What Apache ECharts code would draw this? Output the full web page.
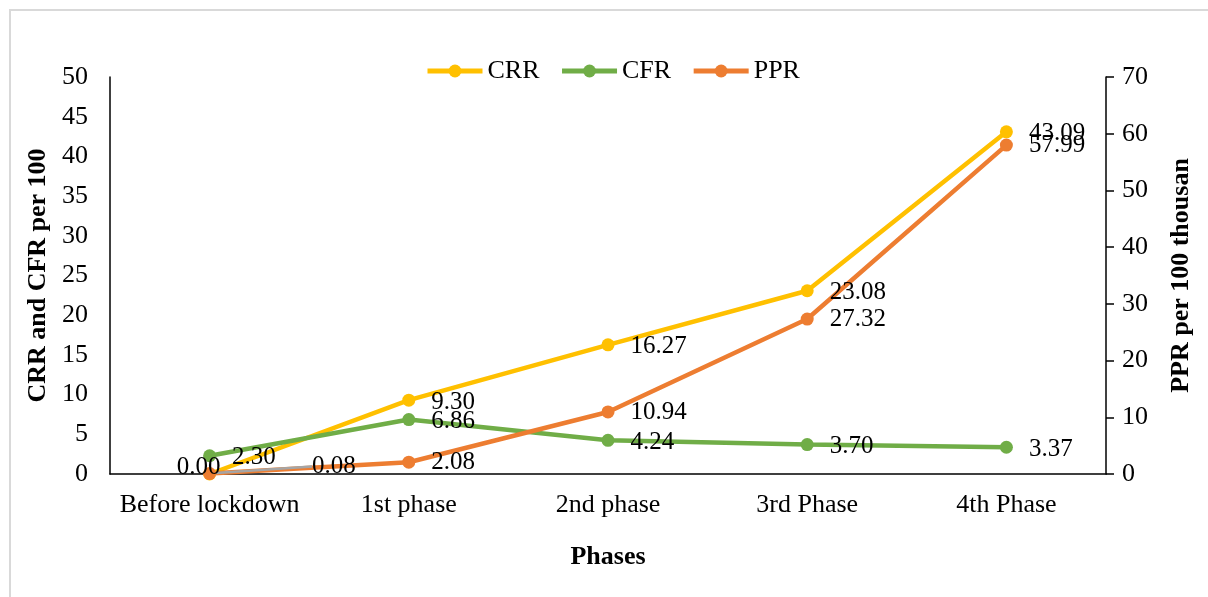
<!DOCTYPE html>
<html>
<head>
<meta charset="utf-8">
<script src="https://cdn.jsdelivr.net/npm/echarts@6/dist/echarts.min.js"></script>
<style>
html,body{margin:0;padding:0;background:#fff;}
#chart{width:1208px;height:597px;}
</style>
</head>
<body>
<div id="chart"></div>
<script>
var categories = ['Before lockdown', '1st phase', '2nd phase', '3rd Phase', '4th Phase'];
var crr = [0.00, 9.30, 16.27, 23.08, 43.09];
var cfr = [2.30, 6.86, 4.24, 3.70, 3.37];
var ppr = [0.08, 2.08, 10.94, 27.32, 57.99];
var leftTicks = {min: 0, max: 50, interval: 5};
var rightTicks = {min: 0, max: 70, interval: 10};

var FONT = "'Liberation Serif', 'Times New Roman', serif";
var FS = 26;
var chart = echarts.init(document.getElementById('chart'));

function fmt(p) { return Number(p.value).toFixed(2); }

var baseLabel = {
  show: true, position: 'right', distance: 16, offset: [0, 2],
  fontFamily: FONT, fontSize: 25, color: '#000', formatter: fmt
};

var crrData = crr.map(function (v, i) {
  if (i === 0) return {value: v, label: {position: 'top', distance: 0, offset: [-11, 12]}};
  return v;
});
var pprData = ppr.map(function (v, i) {
  if (i === 0) return {value: v, labelLine: {show: true, lineStyle: {color: '#A5A5A5', width: 2.5}}};
  return {value: v, labelLine: {show: false}};
});

chart.setOption({
  backgroundColor: '#fff',
  animation: false,
  graphic: [{
    type: 'rect', shape: {x: 10, y: 10, width: 1300, height: 700},
    style: {fill: 'none', stroke: '#d9d9d9', lineWidth: 2}, silent: true
  }],
  legend: {
    top: 53, left: 420, itemWidth: 55, itemHeight: 16, itemGap: 20,
    lineStyle: {width: 5},
    textStyle: {fontFamily: FONT, fontSize: FS, color: '#000'},
    data: ['CRR', 'CFR', 'PPR']
  },
  grid: {left: 110, right: 102, top: 77, bottom: 123, containLabel: false},
  xAxis: {
    type: 'category', data: categories, boundaryGap: true,
    name: 'Phases', nameLocation: 'middle', nameGap: 70,
    nameTextStyle: {fontFamily: FONT, fontSize: FS, fontWeight: 'bold', color: '#000'},
    axisLine: {lineStyle: {color: '#000', width: 1.5}},
    axisTick: {show: false},
    axisLabel: {fontFamily: FONT, fontSize: FS, color: '#000', margin: 18, interval: 0}
  },
  yAxis: [{
    type: 'value', min: leftTicks.min, max: leftTicks.max, interval: leftTicks.interval,
    name: 'CRR and CFR per 100', nameLocation: 'middle', nameGap: 58, nameRotate: 90,
    nameTextStyle: {fontFamily: FONT, fontSize: FS, fontWeight: 'bold', color: '#000'},
    axisLine: {show: true, lineStyle: {color: '#000', width: 1.5}},
    axisTick: {show: false},
    splitLine: {show: false},
    axisLabel: {fontFamily: FONT, fontSize: FS, color: '#000', margin: 22}
  }, {
    type: 'value', position: 'right', min: rightTicks.min, max: rightTicks.max, interval: rightTicks.interval,
    name: 'PPR per 100 thousan', nameLocation: 'middle', nameGap: 62, nameRotate: 90,
    nameTextStyle: {fontFamily: FONT, fontSize: FS, fontWeight: 'bold', color: '#000'},
    axisLine: {show: true, lineStyle: {color: '#000', width: 1.5}},
    axisTick: {show: true, inside: false, length: 8, lineStyle: {color: '#000', width: 1.5}},
    splitLine: {show: false},
    axisLabel: {fontFamily: FONT, fontSize: FS, color: '#000', margin: 16}
  }],
  series: [{
    name: 'CRR', type: 'line', yAxisIndex: 0, data: crrData,
    symbol: 'circle', symbolSize: 13,
    lineStyle: {color: '#FFC000', width: 4.5}, itemStyle: {color: '#FFC000'},
    label: baseLabel
  }, {
    name: 'CFR', type: 'line', yAxisIndex: 0, data: cfr,
    symbol: 'circle', symbolSize: 13,
    lineStyle: {color: '#70AD47', width: 4.5}, itemStyle: {color: '#70AD47'},
    label: baseLabel
  }, {
    name: 'PPR', type: 'line', yAxisIndex: 1, data: pprData,
    symbol: 'circle', symbolSize: 13,
    lineStyle: {color: '#ED7D31', width: 4.5}, itemStyle: {color: '#ED7D31'},
    label: baseLabel,
    labelLayout: function (p) {
      if (p.dataIndex === 0) return {dx: 80, dy: -7};
      return {};
    },
    labelLine: {show: false, lineStyle: {color: '#A5A5A5', width: 2.5}}
  }]
});
</script>
</body>
</html>
